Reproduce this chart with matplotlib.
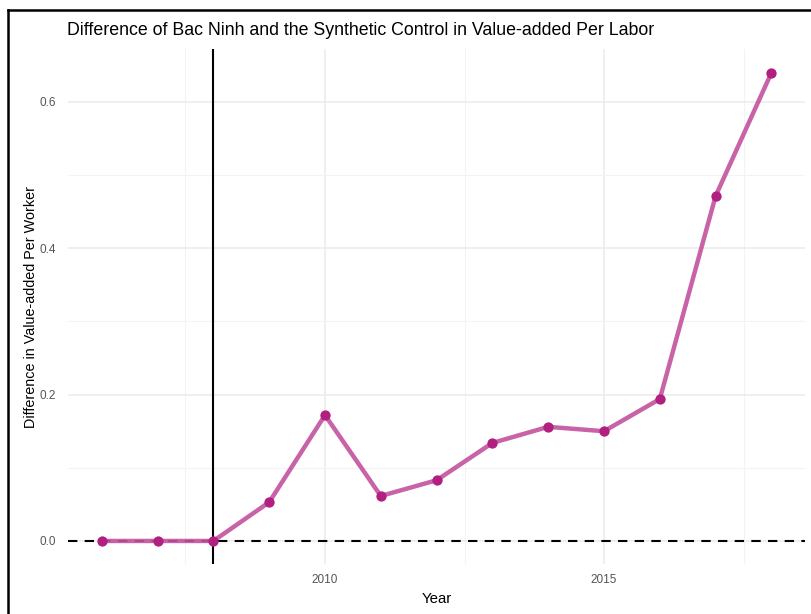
import matplotlib
matplotlib.use("Agg")
import matplotlib.pyplot as plt
from matplotlib.lines import Line2D
from matplotlib.ticker import MultipleLocator

plt.rcParams['font.family'] = ['Liberation Sans', 'DejaVu Sans']

years = [2006, 2007, 2008, 2009, 2010, 2011, 2012, 2013, 2014, 2015, 2016, 2017, 2018]
gap = [0.0, 0.0, 0.0, 0.053, 0.172, 0.0615, 0.083, 0.134, 0.156, 0.150, 0.194, 0.4715, 0.640]
treatment_year = 2008
x_ticks = [2010, 2015]
y_ticks = [0.0, 0.2, 0.4, 0.6]

fig = plt.figure(figsize=(8.11, 6.14), dpi=100)
ax = fig.add_axes([0.0842, 0.0808, 0.9083, 0.8389])

span = max(years) - min(years)
ax.set_xlim(min(years) - 0.05 * span, max(years) + 0.05 * span)
yspan = max(gap) - min(gap)
ax.set_ylim(min(gap) - 0.05 * yspan, max(gap) + 0.05 * yspan)

ax.set_xticks(x_ticks)
ax.set_yticks(y_ticks)
ax.xaxis.set_minor_locator(MultipleLocator(2.5))
ax.yaxis.set_minor_locator(MultipleLocator(0.1))
ax.grid(which='major', color='#ebebeb', linewidth=1.1)
ax.grid(which='minor', color='#f3f3f3', linewidth=0.8)
ax.set_axisbelow(True)
for s in ax.spines.values():
    s.set_visible(False)
ax.tick_params(which='both', length=0, colors='#555555', labelsize=8.5)
ax.tick_params(axis='y', pad=9)
ax.tick_params(axis='x', pad=7)
ax.yaxis.set_major_formatter(matplotlib.ticker.FormatStrFormatter('%.1f'))

ax.axhline(0, color='black', linestyle=(0, (4.5, 3.5)), linewidth=1.5, zorder=2)
ax.axvline(treatment_year, color='black', linewidth=1.5, zorder=2)

ax.plot(years, gap, color='#c2529e', alpha=0.9, linewidth=3.2, zorder=3,
        solid_capstyle='butt')
ax.scatter(years, gap, s=55, color='#b11f80', zorder=4, linewidths=0)

ax.set_xlabel('Year', fontsize=10.8, color='black', labelpad=4)
ax.set_ylabel('Difference in Value-added Per Worker', fontsize=10.4, color='black',
              labelpad=1)
fig.text(0.0826, 0.950, 'Difference of Bac Ninh and the Synthetic Control in Value-added Per Labor',
         fontsize=12.8, color='black', ha='left', va='center')

# screenshot frame lines along the top and left edges
fig.add_artist(Line2D([8 / 811, 1.0], [1 - 10 / 614, 1 - 10 / 614],
                      transform=fig.transFigure, color='black', linewidth=1.8))
fig.add_artist(Line2D([8 / 811, 8 / 811], [0.0, 1 - 10 / 614],
                      transform=fig.transFigure, color='black', linewidth=1.8))

fig.savefig('out.png', dpi=100)
